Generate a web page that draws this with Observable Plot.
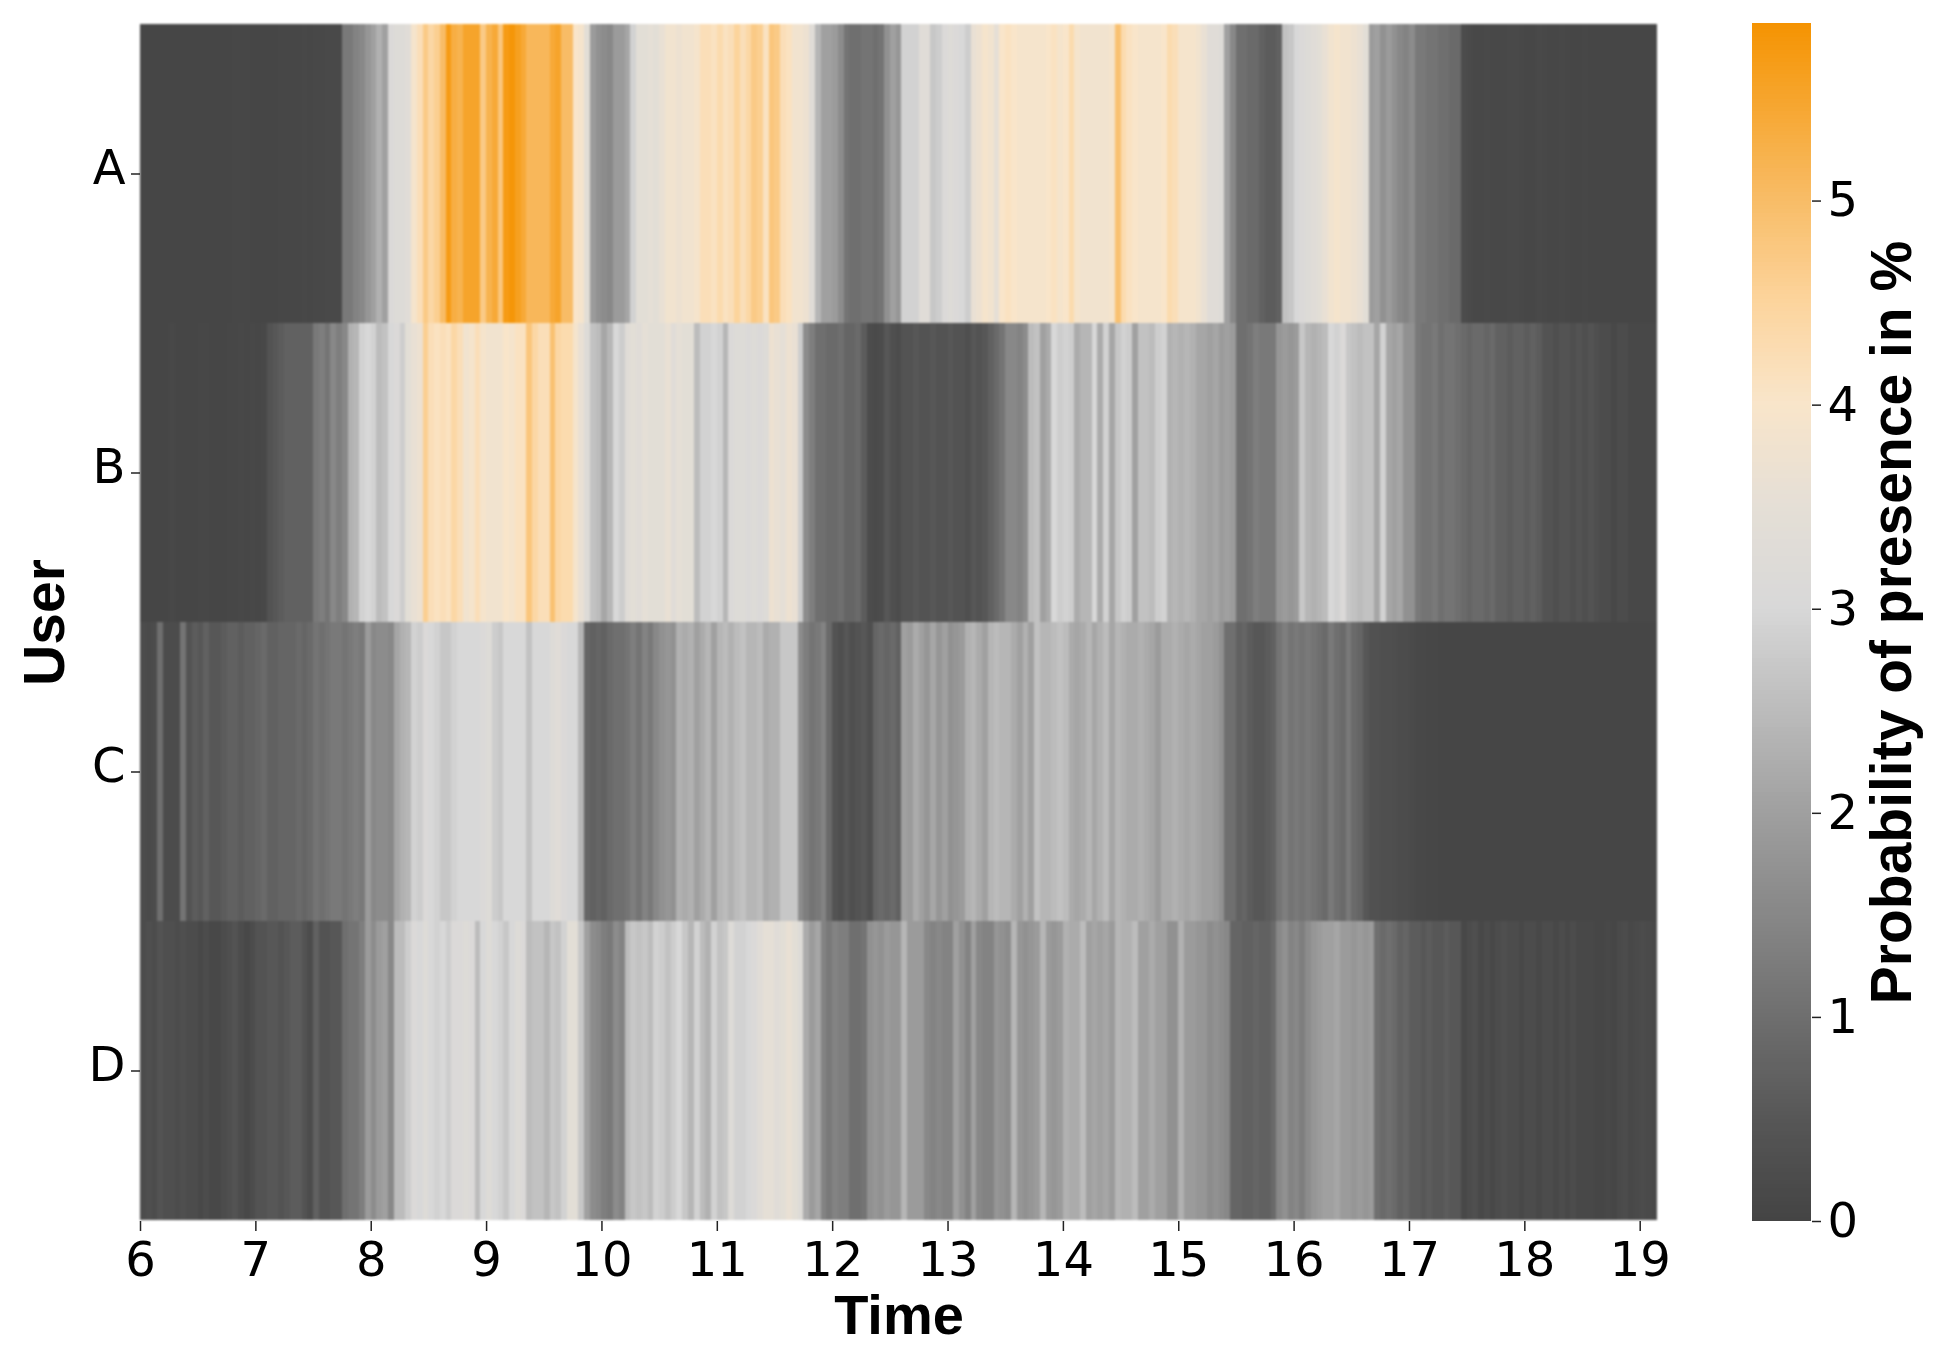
<!DOCTYPE html>
<html><head><meta charset="utf-8">
<script src="https://cdn.jsdelivr.net/npm/d3@7"></script>
<script src="https://cdn.jsdelivr.net/npm/@observablehq/plot@0.6"></script>
<style>html,body{margin:0;padding:0;background:#fff;overflow:hidden}#c{display:flex;width:1941px;height:1357px}svg{display:block;flex:none;filter:blur(.5px)}
g[aria-label="bar"]{filter:blur(1.3px)}</style>
</head><body><div id="c"></div>
<script>
const users = ["A","B","C","D"];
const hours = [6,7,8,9,10,11,12,13,14,15,16,17,18,19];
const barTicks = [0,1,2,3,4,5];
const startHour = 6, stepHours = 0.05, barMax = 5.87;
const stops = [0,0.5,1,2,3,3.5,4,4.5,5,5.87];
const stopColors = ["#444444","#575757","#6f6f6f","#a0a0a0","#d8d8d8","#e5dfd6","#f9e5ca","#fcd49c","#f8bc66","#f59300"];
const rowA = [
.05,.05,.06,.05,.05,.04,.05,.05,.06,.05,.05,.05,.04,.05,.06,.05,.08,.08,.08,.05,.05,.04,.05,.05,.08,.08,.08,.08,.1,.08,.1,.1,.12,.12,.12,
1.2,1.2,1.4,1.5,1.8,2.0,2.3,2.0,3.1,3.2,3.2,3.3,3.9,4.2,4.7,4.4,4.6,5.0,5.7,5.3,5.2,5.5,5.5,5.5,4.7,5.2,5.4,4.8,5.7,5.8,5.6,5.4,5.1,5.1,5.1,5.1,5.4,5.5,5.0,5.0,4.0,3.9,3.4,
1.9,1.7,1.6,1.5,1.9,1.9,2.1,2.9,3.4,3.4,3.5,3.4,3.6,3.8,3.8,3.7,3.8,3.8,3.9,4.2,4.2,4.1,4.3,4.1,4.2,4.5,4.2,4.4,4.7,4.6,4.1,4.8,4.7,4.2,4.1,3.8,3.8,3.7,3.3,2.4,2.0,2.0,1.9,1.6,1.1,1.0,1.0,1.1,1.1,1.0,1.1,1.7,2.0,1.8,
2.9,2.9,2.9,3.3,3.3,2.7,2.8,3.1,3.2,3.1,3.0,2.8,3.6,3.7,3.9,3.8,3.5,4.0,4.1,4.0,3.9,3.9,3.9,3.9,3.9,4.0,4.1,3.9,4.0,4.3,3.9,3.8,3.8,3.8,3.8,3.8,3.9,4.9,4.3,4.1,4.0,3.9,3.9,3.9,3.9,4.0,4.3,4.2,3.9,3.9,3.9,3.8,3.6,3.3,3.3,3.2,2.0,1.5,1.0,1.0,.9,.9,.7,.6,.6,.7,
2.6,2.7,3.0,3.1,3.2,3.3,3.4,3.6,3.8,3.9,3.8,3.8,3.7,3.6,3.4,1.9,2.0,1.7,1.9,1.7,1.5,1.4,1.6,1.2,1.2,1.1,1.1,1.0,1.0,.9,.9,
.2,.15,.1,.1,.12,.1,.1,.1,.12,.12,.1,.08,.08,.12,.1,.08,.08,.1,.08,.06,.06,.08,.06,.05,.05,.06,.05,.04,.04,.05,.05,.04,.04,.05];
const rowB = [
.05,.05,.06,.05,.05,.1,.05,.05,.05,.06,.08,.08,.06,.05,.05,.08,.08,.1,.08,.1,.08,.1,
.4,.5,.6,.7,.7,.7,.7,.7,1.2,1.3,1.1,1.5,1.3,1.5,2.3,2.4,2.9,3.0,2.9,2.5,2.6,3.0,3.1,2.8,3.4,3.6,3.7,4.6,4.2,4.1,4.2,4.1,4.4,4.2,3.8,3.9,4.2,3.9,3.8,3.8,3.8,4.0,3.9,4.1,4.1,4.8,4.4,4.2,4.2,4.9,4.4,4.3,4.3,3.9,3.6,3.2,2.6,2.5,2.1,2.4,3.0,2.8,3.3,3.4,3.3,3.5,3.4,3.4,3.4,3.6,3.3,3.5,3.4,3.4,2.5,2.9,2.9,3.0,2.9,2.4,3.1,3.2,3.2,3.1,3.2,3.1,3.2,3.7,3.6,3.5,3.7,3.6,2.8,1.6,1.3,1.0,1.0,.9,.9,1.0,.8,.8,.9,.6,.2,.15,.2,.5,.3,.2,
.4,.4,.5,.4,.4,.5,.4,.4,.5,.4,.4,.3,.5,.4,.5,.7,.9,1.1,1.5,1.5,1.4,1.6,2.5,2.6,2.0,2.2,3.0,2.8,2.9,2.8,2.2,2.4,2.4,3.0,2.2,2.9,2.1,2.7,2.9,2.8,2.0,2.6,2.6,2.5,2.8,2.9,2.3,2.4,2.3,2.4,2.3,2.1,2.1,2.0,2.1,1.9,2.0,1.9,1.0,1.0,1.1,1.3,1.2,1.2,1.2,1.8,1.9,1.8,1.9,2.7,2.4,2.3,2.4,2.5,3.0,2.9,3.1,2.7,2.6,2.5,2.6,2.6,2.1,2.9,2.1,2.0,2.1,1.7,1.7,1.2,1.1,1.1,1.2,1.0,1.1,1.1,1.0,.9,.8,.9,.9,.8,.9,.7,.7,.6,.7,.7,.6,.7,.6,.4,.4,.3,.4,.4,.3,.4,.3,.4,.3,.2,.2,.1,.2,.2,.1,.1,.1,.1,.1];
const rowC = [
.2,.15,.2,1.0,.2,.2,.2,1.1,.4,.6,.5,.7,.5,.5,.6,.7,.7,.6,.7,.7,.8,.9,.7,.7,.8,.8,.8,.9,.8,.9,1.1,1.0,1.1,1.2,1.2,1.1,1.2,1.3,1.2,1.9,1.5,1.6,1.6,1.5,2.1,2.3,2.4,2.9,2.8,3.1,3.0,2.9,2.7,2.7,2.9,3.0,3.0,3.0,3.0,3.1,3.2,2.8,2.7,3.0,3.0,3.0,3.0,2.6,3.0,3.0,3.0,3.2,3.3,3.1,3.0,3.0,2.4,.8,.7,.8,.7,.9,1.0,1.0,1.1,1.3,1.1,1.4,1.2,1.5,1.7,1.8,1.7,2.3,2.2,2.3,2.0,2.2,2.4,2.0,2.4,2.5,2.3,2.5,2.6,2.4,2.4,2.5,2.2,2.3,2.3,2.7,2.7,2.7,1.6,1.3,1.1,1.2,1.4,.9,.4,.3,.5,.3,.4,.5,.3,.8,.9,.8,.9,.7,
2.0,1.9,2.2,2.0,1.8,2.1,1.8,2.0,1.7,1.8,1.9,2.3,2.4,2.2,2.0,2.4,2.5,2.4,2.4,2.2,2.0,2.3,2.0,2.6,2.4,2.4,2.5,2.6,2.5,2.2,2.1,2.2,2.4,2.1,2.3,2.5,2.1,2.4,2.3,2.2,2.2,2.3,2.2,2.1,1.9,2.2,2.2,2.3,2.2,2.1,2.2,2.1,2.0,2.0,1.9,1.7,1.0,1.0,.7,.8,.6,.5,.5,.6,.7,1.1,1.3,1.1,1.2,1.1,1.2,1.1,1.0,.9,1.2,1.0,.9,1.2,.9,.8,.5,.35,.35,.3,.3,.25,.2,.2,.15,
.1,.1,.08,.08,.06,.05,.05,.05,.05,.05,.05,.05,.05,.05,.05,.05,.05,.05,.05,.05,.05,.05,.05,.05,.05,.05,.05,.05,.05,.05,.05,.05,.05,.05,.05,.05,.05,.05,.05,.05,.05,.05];
const rowD = [
.2,.3,.2,.4,.3,.3,.2,.3,.2,.2,.1,.2,.1,.1,.2,.3,.4,.2,.1,.2,.4,.4,.5,.5,.4,.5,.6,.6,.4,.2,.7,.4,.4,.5,.5,
1.0,1.1,1.1,1.3,1.9,1.6,1.9,2.0,1.5,2.5,2.5,2.8,3.1,3.0,3.2,3.0,2.9,3.0,2.8,3.1,3.1,3.2,3.1,2.5,3.0,3.2,3.0,2.9,2.7,3.0,3.2,3.1,2.5,2.6,2.6,2.4,2.7,2.6,2.9,3.4,3.4,2.7,2.0,1.6,1.5,1.3,1.2,1.6,1.4,2.5,2.7,2.6,2.7,2.5,2.9,2.8,2.6,2.8,3.0,2.7,2.4,2.9,2.5,2.3,2.9,2.6,2.7,3.2,2.9,2.9,3.0,3.1,3.3,3.5,3.5,3.3,3.4,3.6,3.4,3.2,2.2,1.9,2.1,1.4,1.2,1.4,1.3,1.3,1.0,1.0,1.1,1.7,1.8,1.7,1.9,1.8,1.8,
2.4,1.9,1.9,1.9,1.5,1.4,1.5,1.4,1.4,2.0,1.7,1.4,2.0,1.5,1.4,1.4,1.8,1.7,1.6,2.4,1.8,1.7,1.8,1.9,2.4,1.9,1.8,1.9,2.3,2.2,2.2,2.5,2.0,2.1,2.0,2.1,1.9,2.4,2.3,2.3,2.5,2.0,2.0,2.2,2.0,2.0,1.7,1.7,2.3,1.9,1.9,1.8,1.8,1.6,1.7,1.6,1.5,.8,.8,.7,.7,.8,.7,.7,.9,1.5,1.7,1.4,1.5,1.3,1.6,1.8,1.9,2.0,2.0,2.1,1.9,1.9,1.8,1.9,1.8,1.9,1.0,.9,1.0,.9,.7,.8,.6,.6,.5,.6,.5,.5,.6,.5,.5,.1,.2,.3,.1,.2,.1,.2,.3,.2,.2,.1,.2,.2,.1,.2,.2,.1,.2,.1,.2,.1,.1,.1,.05,.05,.1,.05,.15,.2,.1,.15,.2,.15,.1];
const rows = [rowA,rowB,rowC,rowD];
const cells = users.flatMap((u,i)=>rows[i].map((v,j)=>({user:u,t0:startHour+j*stepHours,t1:startHour+(j+1)*stepHours,v})));
const levels = d3.range(0,barMax,0.02);
const colorOpts = {type:"linear",domain:stops,range:stopColors,interpolate:"rgb",clamp:true};
const tickFont = "DejaVu Sans", titleFont = "Liberation Sans";
const main = Plot.plot({
  width:1690,height:1357,marginLeft:140,marginRight:33,marginTop:23,marginBottom:136,
  style:{background:"#fff",overflow:"visible"},
  x:{domain:[6,19.15]},y:{domain:users,padding:0},color:colorOpts,
  marks:[
    Plot.barX(cells,{x1:"t0",x2:"t1",y:"user",fill:"v",shapeRendering:"crispEdges"}),
    Plot.axisX({ticks:hours,tickFormat:d=>String(d),tickSize:10,tickPadding:10,fontSize:48,fontFamily:tickFont,label:null,stroke:"#222",strokeWidth:1.5,fill:"#000"}),
    Plot.axisY({text:null,tickSize:9,label:null,stroke:"#222",strokeWidth:1.5}),
    Plot.axisY({tickSize:0,tickPadding:15,dy:-5,fontSize:48,fontFamily:tickFont,label:null,fill:"#000"}),
    Plot.text(["Time"],{frameAnchor:"bottom",dy:112,fontSize:56,fontWeight:"bold",fontFamily:titleFont,fill:"#000"}),
    Plot.text(["User"],{frameAnchor:"left",textAnchor:"middle",dx:-95,rotate:-90,fontSize:57,fontWeight:"bold",fontFamily:titleFont,fill:"#000"})
  ]
});
const bar = Plot.plot({
  width:251,height:1357,marginLeft:62,marginRight:130,marginTop:23,marginBottom:136,
  style:{background:"#fff",overflow:"visible"},
  x:{axis:null},y:{domain:[0,barMax]},color:colorOpts,
  marks:[
    Plot.rect(levels,{y1:d=>d,y2:d=>Math.min(d+0.02,barMax),fill:d=>d,shapeRendering:"crispEdges"}),
    Plot.axisY({anchor:"right",ticks:barTicks,tickFormat:d=>String(d),tickSize:9,tickPadding:7,fontSize:48,fontFamily:tickFont,label:null,stroke:"#222",strokeWidth:1.5,fill:"#000"}),
    Plot.text(["Probability of presence in %"],{frameAnchor:"right",textAnchor:"middle",dx:81,rotate:-90,fontSize:57,fontWeight:"bold",fontFamily:titleFont,fill:"#000"})
  ]
});
document.getElementById("c").append(main,bar);
</script></body></html>
